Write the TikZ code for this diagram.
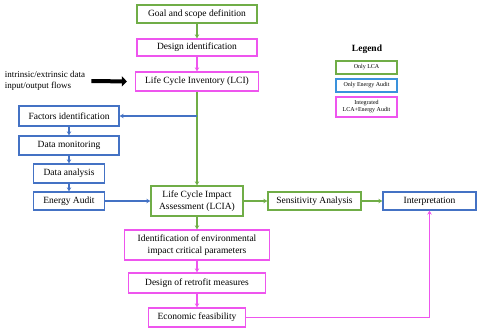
\documentclass[tikz,border=0pt]{standalone}
\usepackage{fontspec}
\setmainfont{Liberation Serif}
\usetikzlibrary{arrows.meta, positioning}
\definecolor{lcagreen}{HTML}{70AD47}
\definecolor{auditblue}{HTML}{4472C4}
\definecolor{keyblue}{HTML}{3A92DC}
\definecolor{intmagenta}{HTML}{EE55EE}

\begin{document}
\begin{tikzpicture}[
    x=1pt, y=-1pt,
    >={Stealth[length=4pt, width=4.5pt]},
    box/.style={
        draw,
        line width=1.3pt,
        fill=white,
        text=black,
        inner sep=1pt,
        align=center,
        font=\fontsize{9.5}{11.5}\selectfont
    },
    lcabox/.style={box, draw=lcagreen},
    auditbox/.style={box, draw=auditblue},
    intbox/.style={box, draw=intmagenta},
    keybox/.style={
        draw,
        line width=1.2pt,
        minimum width=61pt,
        align=center,
        inner sep=0.5pt,
        font=\fontsize{6}{7}\selectfont
    },
    every edge/.style={
        draw,
        line width=1.3pt,
        ->
    },
    bigarrow/.style={
        draw=black,
        line width=4pt,
        -{Triangle[length=5pt, width=10pt]}
    }
]
\useasboundingbox (0,0) rectangle (480,331);

% LCA column
\node[lcabox, minimum width=120pt, minimum height=18pt] (goal) at (197,14) {Goal and scope definition};
\node[intbox, minimum width=120pt, minimum height=17pt] (design) at (197,47.5) {Design identification};
\node[intbox, minimum width=123pt, minimum height=19pt] (lci) at (197,81.5) {Life Cycle Inventory (LCI)};
\node[lcabox, minimum width=92pt, minimum height=30pt] (lcia) at (197,201) {Life Cycle Impact\\Assessment (LCIA)};
\node[intbox, minimum width=145pt, minimum height=30pt] (critical) at (197,245) {Identification of environmental\\impact critical parameters};
\node[intbox, minimum width=137pt, minimum height=20pt] (retrofit) at (197,283) {Design of retrofit measures};
\node[intbox, minimum width=97pt, minimum height=19pt] (economic) at (197,317.5) {Economic feasibility};

% Energy audit column
\node[auditbox, minimum width=100pt, minimum height=20pt] (factors) at (69,116) {Factors identification};
\node[auditbox, minimum width=100pt, minimum height=19pt] (monitoring) at (69,145.5) {Data monitoring};
\node[auditbox, minimum width=71pt, minimum height=19pt] (analysis) at (69,173.5) {Data analysis};
\node[auditbox, minimum width=71pt, minimum height=18pt] (audit) at (69,201) {Energy Audit};

% Right row
\node[lcabox, minimum width=93pt, minimum height=18pt] (sensitivity) at (314.5,201) {Sensitivity Analysis};
\node[auditbox, minimum width=93pt, minimum height=18pt] (interpretation) at (429.5,201) {Interpretation};

% Input flows
\node[align=left, inner sep=0pt, font=\fontsize{9}{11}\selectfont] (input) at (45,81) {intrinsic/extrinsic data\\input/output flows};

% Legend
\node[font=\bfseries\fontsize{9.5}{11}\selectfont] (legend) at (367,49) {Legend};
\node[keybox, draw=lcagreen, minimum height=13pt] (keylca) at (366.5,67.5) {Only LCA};
\node[keybox, draw=keyblue, minimum height=13pt] (keyaudit) at (366.5,85.5) {Only Energy Audit};
\node[keybox, draw=intmagenta, minimum height=20pt] (keyint) at (366.5,107) {Integrated\\LCA+Energy Audit};

% Connectors
\coordinate (split) at (197,116);
\path (goal) edge[draw=lcagreen] (design);
\path (design) edge[draw=intmagenta] (lci);
\path (lci) edge[draw=lcagreen] (lcia);
\path (split) edge[draw=auditblue] (factors);
\path (factors) edge[draw=auditblue] (monitoring);
\path (monitoring) edge[draw=auditblue] (analysis);
\path (analysis) edge[draw=auditblue] (audit);
\path (audit) edge[draw=auditblue] (lcia);
\path (lcia) edge[draw=lcagreen] (sensitivity);
\path (sensitivity) edge[draw=lcagreen] (interpretation);
\path (lcia) edge[draw=lcagreen] (critical);
\path (critical) edge[draw=intmagenta] (retrofit);
\path (retrofit) edge[draw=intmagenta] (economic);
\draw[draw=intmagenta, line width=1.3pt, ->] (economic.east) -| (interpretation.south);
\draw[bigarrow, shorten <=6pt, shorten >=8pt] (input.east) -- (lci.west);

\end{tikzpicture}
\end{document}
